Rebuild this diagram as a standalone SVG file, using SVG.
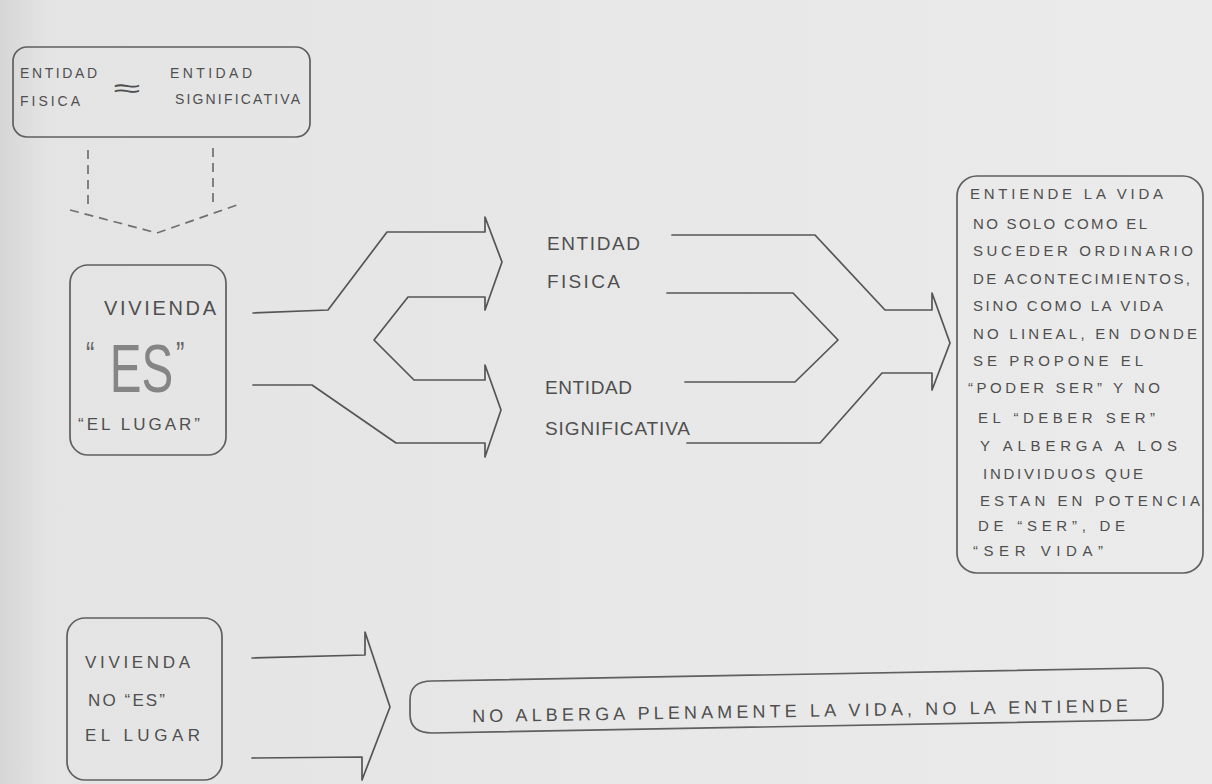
<svg xmlns="http://www.w3.org/2000/svg" width="1212" height="784" viewBox="0 0 1212 784">
<style>
.box{fill:none;stroke:#5f5f5f;stroke-width:1.7;stroke-linejoin:round}
.ln{fill:none;stroke:#555;stroke-width:1.7;stroke-linejoin:round;stroke-linecap:round}
.dash{fill:none;stroke:#707070;stroke-width:1.7;stroke-dasharray:9 6}
.t{font-family:"Liberation Sans",Arial,sans-serif;fill:#4f4f4f}
.s13{font-size:14px}
.s14{font-size:15px}
.s16{font-size:17px}
.s18{font-size:19px}
</style>
<defs>
<linearGradient id="paper" x1="0" y1="0" x2="1" y2="0">
<stop offset="0" stop-color="#d6d6d6"/>
<stop offset="0.04" stop-color="#e4e4e4"/>
<stop offset="1" stop-color="#ebebeb"/>
</linearGradient>
</defs>
<rect width="1212" height="784" fill="url(#paper)"/>

<g id="top-box">
<rect class="box" x="13" y="47" width="297" height="90" rx="14"/>
<text class="t s13" x="20" y="78" textLength="77" lengthAdjust="spacing">ENTIDAD</text>
<text class="t s13" x="20" y="106" textLength="60" lengthAdjust="spacing">FISICA</text>
<text class="t" x="113" y="97" font-size="26" textLength="27" lengthAdjust="spacingAndGlyphs">≈</text>
<text class="t s13" x="170" y="78" textLength="82" lengthAdjust="spacing">ENTIDAD</text>
<text class="t s13" x="175" y="104" textLength="125" lengthAdjust="spacing">SIGNIFICATIVA</text>
</g>

<g id="vivienda-es">
<rect class="box" x="70" y="265" width="156" height="190" rx="18"/>
<text class="t" x="104" y="315" font-size="20" textLength="112" lengthAdjust="spacing">VIVIENDA</text>
<text class="t" transform="translate(86,392) scale(0.7,1)" font-size="68"><tspan font-size="36" dy="-26" fill="#666">“</tspan><tspan dx="22" dy="26" fill="#858585">ES</tspan><tspan font-size="36" dx="4" dy="-26" fill="#666">”</tspan></text>
<text class="t s16" x="78" y="430" textLength="122" lengthAdjust="spacing">“EL LUGAR”</text>
</g>

<g id="entidad-fisica">
<text class="t s18" x="547" y="250" textLength="93" lengthAdjust="spacing">ENTIDAD</text>
<text class="t s18" x="547" y="288" textLength="73" lengthAdjust="spacing">FISICA</text>
</g>

<g id="entidad-significativa">
<text class="t s18" x="545" y="394" textLength="87" lengthAdjust="spacing">ENTIDAD</text>
<text class="t s18" x="545" y="435" textLength="145" lengthAdjust="spacing">SIGNIFICATIVA</text>
</g>

<g id="vida-box">
<rect class="box" x="957" y="176" width="246" height="397" rx="20"/>
<g class="t s14">
<text x="970" y="199" textLength="193" lengthAdjust="spacing">ENTIENDE LA VIDA</text>
<text x="973" y="229" textLength="174" lengthAdjust="spacing">NO SOLO COMO EL</text>
<text x="973" y="256" textLength="220" lengthAdjust="spacing">SUCEDER ORDINARIO</text>
<text x="973" y="284" textLength="217" lengthAdjust="spacing">DE ACONTECIMIENTOS,</text>
<text x="973" y="311" textLength="190" lengthAdjust="spacing">SINO COMO LA VIDA</text>
<text x="973" y="339" textLength="224" lengthAdjust="spacing">NO LINEAL, EN DONDE</text>
<text x="973" y="366" textLength="170" lengthAdjust="spacing">SE PROPONE EL</text>
<text x="968" y="393" textLength="192" lengthAdjust="spacing">“PODER SER” Y NO</text>
<text x="978" y="423" textLength="177" lengthAdjust="spacing">EL “DEBER SER”</text>
<text x="980" y="451" textLength="197" lengthAdjust="spacing">Y ALBERGA A LOS</text>
<text x="983" y="479" textLength="160" lengthAdjust="spacing">INDIVIDUOS QUE</text>
<text x="980" y="506" textLength="220" lengthAdjust="spacing">ESTAN EN POTENCIA</text>
<text x="978" y="531" textLength="147" lengthAdjust="spacing">DE “SER”, DE</text>
<text x="973" y="556" textLength="130" lengthAdjust="spacing">“SER VIDA”</text>
</g>
</g>

<g id="vivienda-no-es">
<rect class="box" x="67" y="618" width="155" height="162" rx="18"/>
<text class="t s16" x="85" y="668" textLength="105" lengthAdjust="spacing">VIVIENDA</text>
<text class="t s16" x="88" y="706" textLength="77" lengthAdjust="spacing">NO “ES”</text>
<text class="t s16" x="85" y="741" textLength="115" lengthAdjust="spacing">EL LUGAR</text>
</g>

<g id="no-alberga">
<path class="box" d="M432,681 L1145,668 Q1163,668 1163,686 L1163,703 Q1163,720 1145,720 L432,733 Q410,733 410,714 L410,700 Q410,681 432,681 Z"/>
<text class="t" font-size="18" x="472" y="717" textLength="656" lengthAdjust="spacing" transform="rotate(-0.9 800 710)">NO ALBERGA PLENAMENTE LA VIDA, NO LA ENTIENDE</text>
</g>

<g id="connectors">
<path class="dash" d="M88,150 L88,208"/>
<path class="dash" d="M213,148 L213,206"/>
<path class="dash" d="M70,210 L157,233 L237,205"/>
<path class="ln" d="M253,313 L328,310 L387,232 L485,232 L485,217 L502,262 L485,310 L485,297 L408,297 L374,340 L414,380 L485,380 L485,365 L501,410 L485,457 L485,443 L396,443 L312,385 L253,385"/>
<path class="ln" d="M672,235 L815,235 L885,310 L932,310 L932,293 L950,343 L932,390 L932,373 L882,373 L820,443 L687,443"/>
<path class="ln" d="M667,293 L793,293 L838,340 L795,382 L685,382"/>
<path class="ln" d="M252,658 L365,655 L365,632 L390,707 L362,780 L362,757 L252,758"/>
</g>
</svg>
